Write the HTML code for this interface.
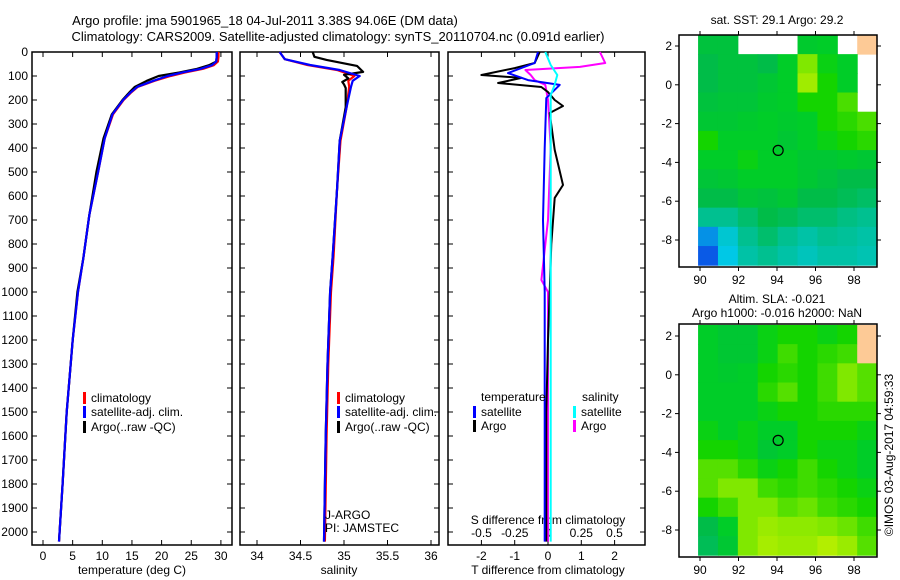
<!DOCTYPE html>
<html><head><meta charset="utf-8"><style>
body{margin:0;background:#fff}
svg{display:block;font-family:"Liberation Sans",sans-serif}
</style></head><body>
<svg id="c" width="900" height="580" viewBox="0 0 900 580">
<text x="265" y="25" font-size="13" text-anchor="middle">Argo profile: jma 5901965_18 04-Jul-2011 3.38S 94.06E (DM data)</text>
<text x="338" y="41" font-size="13" text-anchor="middle">Climatology: CARS2009. Satellite-adjusted climatology: synTS_20110704.nc (0.091d earlier)</text>
<text x="777" y="24" font-size="12" text-anchor="middle">sat. SST: 29.1  Argo: 29.2</text>
<text x="777" y="303" font-size="12" text-anchor="middle">Altim. SLA: -0.021</text>
<text x="777" y="317" font-size="12" text-anchor="middle">Argo h1000: -0.016 h2000: NaN</text>
<text transform="translate(893,455) rotate(-90)" font-size="12" text-anchor="middle">©IMOS 03-Aug-2017 04:59:33</text>
</svg>
<script>
// ---------- data ----------
const depthTicks=[0,100,200,300,400,500,600,700,800,900,1000,1100,1200,1300,1400,1500,1600,1700,1800,1900,2000];
const tempTicks=[0,5,10,15,20,25,30];
const salTicks=[34,34.5,35,35.5,36];
const tdiffTicks=[-2,-1,0,1,2];
const sdiffTicks=[-0.5,-0.25,0,0.25,0.5];
const sdiffLabels=["-0.5","-0.25","0","0.25","0.5"];

const depthT=[0,20,40,55,70,85,100,120,145,170,200,260,360,500,680,860,1000,1200,1500,1800,2040];
const climT=[29.6,29.6,29.5,28.8,27,24,21.5,18.8,16,14.8,13.6,11.8,10.4,9.3,7.8,6.8,5.9,5.0,4.0,3.3,2.7];
const satT=[29.3,29.3,29.2,28.5,26.6,23.5,21,18.6,15.9,14.7,13.5,11.7,10.4,9.3,7.8,6.8,5.9,5.0,4.0,3.3,2.7];
const argoT=[29.3,29.3,29.2,28,26,23,19.5,17.5,15.5,14.5,13.4,11.6,10.2,9.0,7.8,6.8,5.8,5.0,4.0,3.3,2.7];

const depthS=[0,30,54,75,100,120,145,230,370,575,850,1000,1300,1600,2040];
const climS=[34.26,34.32,34.58,34.92,35.12,35.05,35.06,35.03,34.96,34.92,34.88,34.85,34.82,34.8,34.78];
const satS=[34.26,34.32,34.61,34.95,35.18,35.1,35.08,35.03,34.95,34.92,34.87,34.84,34.81,34.79,34.77];
const depthArgoS=[0,20,33,58,83,95,110,125,135,150,230,370,575,850,1000,1300,1600,2040];
const argoS=[34.64,34.66,34.8,35.15,35.22,35.0,35.05,34.98,35.0,35.02,35.02,34.95,34.92,34.87,34.84,34.81,34.79,34.77];

const depthDTs=[0,46,88,117,137,192,400,700,1000,1500,2040];
const dTsat=[-0.3,-0.4,-1.2,-0.6,0.35,-0.05,-0.1,-0.15,-0.1,-0.1,-0.1];
const depthDTa=[0,46,67,96,108,129,146,167,200,225,254,408,554,608,800,1000,1200,1500,2040];
const dTargo=[-0.25,-0.4,-1.0,-2.0,-0.8,-1.5,-0.2,0,0.2,0.45,0.05,0.2,0.45,0.2,0.1,0.05,0,-0.05,-0.05];
const depthDSa=[0,46,62,75,96,117,137,200,400,700,950,1000,1200,1500,2040];
const dSargo=[0.39,0.43,0.24,-0.17,-0.13,-0.1,-0.02,0,0.02,0,-0.05,0,0,0,0];
const depthDSs=[0,54,96,137,180,400,1000,2040];
const dSsat=[-0.02,0.02,0.07,0.05,0.02,0.02,0.02,0.02];

const mapLonTicks=[90,92,94,96,98];
const mapLatTicks=[2,0,-2,-4,-6,-8];
const argoLon=94.06, argoLat=-3.38;
const N=null, L=-1;
const sstGrid=[
[0.62,0.62,N,N,N,0.65,0.66,N,L],
[0.6,0.62,0.62,0.6,0.66,0.8,0.68,0.66,N],
[0.6,0.62,0.62,0.64,0.66,0.85,0.7,0.66,N],
[0.62,0.63,0.63,0.65,0.66,0.7,0.7,0.75,N],
[0.64,0.64,0.65,0.66,0.65,0.66,0.7,0.72,0.75],
[0.7,0.66,0.66,0.66,0.64,0.66,0.68,0.7,0.72],
[0.66,0.66,0.68,0.66,0.66,0.64,0.64,0.65,0.64],
[0.63,0.64,0.66,0.66,0.66,0.64,0.62,0.6,0.6],
[0.6,0.6,0.63,0.62,0.64,0.6,0.6,0.58,0.56],
[0.5,0.5,0.55,0.6,0.58,0.55,0.55,0.52,0.5],
[0.2,0.35,0.5,0.55,0.5,0.45,0.5,0.48,0.45],
[0.1,0.3,0.45,0.5,0.45,0.4,0.45,0.45,0.42]];
const slaGrid=[
[0.66,0.64,0.64,0.68,0.7,0.7,0.68,0.7,L],
[0.66,0.64,0.64,0.68,0.74,0.7,0.72,0.74,L],
[0.66,0.65,0.66,0.7,0.72,0.7,0.74,0.8,0.76],
[0.66,0.66,0.66,0.72,0.76,0.7,0.74,0.8,0.76],
[0.66,0.66,0.66,0.68,0.7,0.7,0.72,0.72,0.72],
[0.68,0.66,0.68,0.66,0.66,0.7,0.7,0.7,0.68],
[0.7,0.7,0.68,0.64,0.66,0.7,0.68,0.68,0.66],
[0.76,0.76,0.72,0.68,0.7,0.74,0.7,0.68,0.66],
[0.76,0.8,0.8,0.74,0.72,0.74,0.72,0.7,0.68],
[0.7,0.74,0.8,0.8,0.76,0.78,0.74,0.72,0.7],
[0.6,0.66,0.8,0.84,0.82,0.82,0.8,0.78,0.74],
[0.58,0.64,0.8,0.86,0.84,0.84,0.88,0.84,0.76]];

// ---------- drawing ----------
const svg=document.getElementById('c');
const NS='http://www.w3.org/2000/svg';
function mk(tag,attrs,parent){const e=document.createElementNS(NS,tag);for(const k in attrs)e.setAttribute(k,attrs[k]);(parent||svg).appendChild(e);return e;}
function txt(x,y,s,anchor,size,parent){const t=mk('text',{x:x,y:y,'font-size':size||12,'text-anchor':anchor||'middle'},parent);t.textContent=s;return t;}

const PT=52,PB=545,D0=52,DPX=0.24;
const yD=d=>D0+d*DPX;

function panel(name,x0,x1,xs,ticks,labels){
  const g=mk('g',{});
  
  
  const r=mk('rect',{x:x0,y:PT,width:x1-x0,height:PB-PT,fill:'none',stroke:'#000','stroke-width':1.5},g);
  
  
  ticks.forEach((v,i)=>{const x=xs(v);
    mk('line',{x1:x,y1:PT,x2:x,y2:PT+5,stroke:'#000'},g);
    mk('line',{x1:x,y1:PB,x2:x,y2:PB-5,stroke:'#000'},g);
    if(labels){const t=txt(x,PB+15,labels[i],'middle',12,g);
      
      }
  });
  depthTicks.forEach(d=>{const y=yD(d);
    mk('line',{x1:x0,y1:y,x2:x0+5,y2:y,stroke:'#000'},g);
    mk('line',{x1:x1,y1:y,x2:x1-5,y2:y,stroke:'#000'},g);});
  return g;
}
function line(g,name,xs,depths,vals,color,w){
  const pts=vals.map((v,i)=>xs(v).toFixed(1)+','+yD(depths[i]).toFixed(1)).join(' ');
  const p=mk('polyline',{points:pts,fill:'none',stroke:color,'stroke-width':w||2.2,'stroke-linejoin':'round'},g);
  
  
}
function legend(g,x,y,color,label){
  mk('rect',{x:x,y:y-10,width:3,height:12,fill:color},g);
  const t=txt(x+8,y,label,'start',12,g);
  
  
}

// panel 1 temperature
const xT=v=>43+v*5.93;
const g1=panel('temperature-panel',32,232,xT,tempTicks,tempTicks.map(String));
depthTicks.forEach(d=>{const t=txt(28,yD(d)+4,String(d),'end',12,g1);
  
  });
line(g1,'temp-climatology-line',xT,depthT,climT,'#f00');
line(g1,'temp-argo-line',xT,depthT,argoT,'#000');
line(g1,'temp-satellite-line',xT,depthT,satT,'#00f');
legend(g1,83,402,'#f00','climatology');legend(g1,83,416,'#00f','satellite-adj. clim.');legend(g1,83,431,'#000','Argo(..raw -QC)');
let t=txt(132,574,'temperature (deg C)','middle',12,g1);


// panel 2 salinity
const xS=v=>257+(v-34)*87;
const g2=panel('salinity-panel',240,439,xS,salTicks,salTicks.map(String));
line(g2,'sal-climatology-line',xS,depthS,climS,'#f00');
line(g2,'sal-argo-line',xS,depthArgoS,argoS,'#000');
line(g2,'sal-satellite-line',xS,depthS,satS,'#00f');
legend(g2,337,402,'#f00','climatology');legend(g2,337,416,'#00f','satellite-adj. clim.');legend(g2,337,431,'#000','Argo(..raw -QC)');
t=txt(325,519,'J-ARGO','start',12,g2);
t=txt(325,532,'PI: JAMSTEC','start',12,g2);
t=txt(339,574,'salinity','middle',12,g2);

// panel 3 differences
const xDT=v=>548+v*33.3;
const xDS=v=>548+v*133;
const g3=panel('difference-panel',448,645,xDT,tdiffTicks,tdiffTicks.map(String));
sdiffTicks.forEach((v,i)=>{const s=txt(xDS(v),537,sdiffLabels[i],'middle',12,g3);
  
  });
t=txt(548,524,'S difference from climatology','middle',12,g3);
t=txt(548,574,'T difference from climatology','middle',12,g3);
line(g3,'sdiff-argo-line',xDS,depthDSa,dSargo,'#f0f',2);
line(g3,'tdiff-argo-line',xDT,depthDTa,dTargo,'#000',2);
line(g3,'tdiff-satellite-line',xDT,depthDTs,dTsat,'#00f',2);
line(g3,'sdiff-satellite-line',xDS,depthDSs,dSsat,'#0ff',2);
t=txt(481,401,'temperature','start',12,g3);
t=txt(582,401,'salinity','start',12,g3);
legend(g3,473,416,'#00f','satellite');legend(g3,473,430,'#000','Argo');
legend(g3,573,416,'#0ff','satellite');legend(g3,573,430,'#f0f','Argo');

// maps
const stops=[[0,[10,70,230]],[0.1,[10,90,230]],[0.3,[0,200,230]],[0.5,[0,192,144]],[0.6,[0,188,72]],[0.66,[0,205,40]],[0.7,[20,212,0]],[0.8,[128,232,0]],[0.9,[192,240,0]],[1,[220,250,0]]];
function cmap(v){for(let i=1;i<stops.length;i++){if(v<=stops[i][0]){const a=stops[i-1],b=stops[i],f=(v-a[0])/(b[0]-a[0]);
  const c=a[1].map((q,k)=>Math.round(q+(b[1][k]-q)*f));return 'rgb('+c.join(',')+')';}}return 'rgb(220,250,0)';}
function map(name,top,bottom,lat2y,grid){
  const g=mk('g',{});
  
  
  const lonX=lo=>700+(lo-90)*19.25;
  const latY=la=>lat2y+(2-la)*19.4;
  const lonW=89.9, lonE=99.2, latN=2.57, latS=-9.3;
  const rows=grid.length, cols=grid[0].length;
  const dLon=(lonE-lonW)/cols, dLat=(latN-latS)/rows;
  grid.forEach((row,r)=>row.forEach((v,c)=>{
    if(v===null)return;
    const x=lonX(lonW+c*dLon), y=latY(latN-r*dLat);
    const cell=mk('rect',{x:x,y:y,width:lonX(lonW+(c+1)*dLon)-x+0.5,height:latY(latN-(r+1)*dLat)-y+0.5,fill:v===L?'#fdca96':cmap(v)},g);
    
    
  }));
  const fr=mk('rect',{x:679,y:top,width:198,height:bottom-top,fill:'none',stroke:'#000','stroke-width':1.5},g);
  
  
  mapLonTicks.forEach(lo=>{const x=lonX(lo);
    mk('line',{x1:x,y1:top,x2:x,y2:top-4,stroke:'#000'},g);
    mk('line',{x1:x,y1:bottom,x2:x,y2:bottom+4,stroke:'#000'},g);
    const l=txt(x,bottom+17,String(lo),'middle',12,g);
    
    });
  mapLatTicks.forEach(la=>{const y=latY(la);
    mk('line',{x1:679,y1:y,x2:675,y2:y,stroke:'#000'},g);
    mk('line',{x1:877,y1:y,x2:881,y2:y,stroke:'#000'},g);
    const l=txt(672,y+4,String(la),'end',12,g);
    
    });
  const cir=mk('circle',{cx:lonX(argoLon),cy:latY(argoLat),r:5,fill:'none',stroke:'#000','stroke-width':1.2},g);
  
  
}
map('sst-map',35,267,46,sstGrid);
map('sla-map',324,557,336,slaGrid);
</script>
</body></html>
